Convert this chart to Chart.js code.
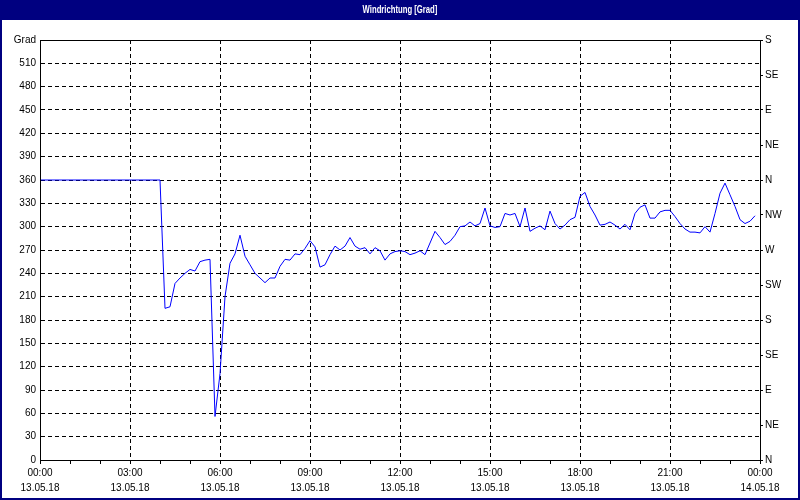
<html><head>
<script src="https://cdn.jsdelivr.net/npm/chart.js@4.4.0/dist/chart.umd.min.js"></script>
<style>
  body { margin: 0; background: #fff; }
</style>
</head>
<body>
<canvas id="wind-chart" width="800" height="500"></canvas>
<script>

var chartTitle = "Windrichtung [Grad]";
var axisUnit = "Grad";
var dayOne = "13.05.18";
var dayTwo = "14.05.18";
var compassLabels = ["N", "NE", "E", "SE", "S", "SW", "W", "NW", "N", "NE", "E", "SE", "S"];

// minutes since 00:00
var sampleMinutes = [0, 240, 250, 260, 270, 280, 290, 300, 310, 320, 330, 340, 350, 360, 370, 380, 390,
  400, 410, 420, 430, 440, 450, 460, 470, 480, 490, 500, 510, 520, 530, 540, 550, 560, 570, 580, 590,
  600, 610, 620, 630, 640, 650, 660, 670, 680, 690, 700, 710, 720, 730, 740, 750, 760, 770, 780, 790,
  800, 810, 820, 830, 840, 850, 860, 870, 880, 890, 900, 910, 920, 930, 940, 950, 960, 970, 980, 990,
  1000, 1010, 1020, 1030, 1040, 1050, 1060, 1070, 1080, 1090, 1100, 1110, 1120, 1130, 1140, 1150, 1160,
  1170, 1180, 1190, 1200, 1210, 1220, 1230, 1240, 1250, 1260, 1270, 1280, 1290, 1300, 1310, 1320, 1330,
  1340, 1350, 1360, 1370, 1380, 1390, 1400, 1410, 1420, 1430];

var direction = [360, 360, 195, 197, 227, 234, 240, 245, 243, 255, 257, 258, 56, 111, 210, 253, 265,
  289, 262, 251, 240, 234, 228, 234, 234, 249, 258, 257, 265, 264, 272, 282, 274, 248, 251, 264, 275,
  270, 275, 286, 275, 271, 273, 265, 273, 269, 257, 265, 268, 269, 268, 264, 266, 269, 264, 279, 294,
  286, 277, 281, 289, 300, 301, 306, 301, 304, 324, 301, 299, 300, 317, 315, 317, 300, 324, 294, 298,
  301, 296, 320, 304, 297, 302, 309, 312, 339, 344, 326, 315, 302, 303, 306, 302, 297, 303, 296, 317,
  325, 328, 311, 311, 319, 321, 321, 313, 304, 297, 293, 293, 292, 300, 293, 317, 343, 356, 341, 326,
  309, 304, 307, 314];

var points = [];
for (var i = 0; i < sampleMinutes.length; i++) {
  points.push({x: sampleMinutes[i], y: direction[i]});
}

var tickFont = {family: "'Liberation Sans', sans-serif", size: 10, lineHeight: '15px'};

// navy frame, title bar and the solid box round the plot
var framePlugin = {
  id: 'frame',
  beforeDraw: function(chart) {
    var ctx = chart.ctx;
    ctx.save();
    ctx.fillStyle = '#fff';
    ctx.fillRect(0, 0, 800, 500);
    ctx.fillStyle = '#000080';
    ctx.fillRect(0, 0, 800, 20);
    ctx.fillStyle = '#fff';
    ctx.font = "bold 11px 'Liberation Sans', sans-serif";
    ctx.textAlign = 'center';
    ctx.textBaseline = 'middle';
    ctx.translate(400, 10);
    ctx.scale(0.7, 1);   // the original font is much narrower
    ctx.fillText(chartTitle, 0, 0);
    ctx.restore();
  },
  afterDraw: function(chart) {
    var ctx = chart.ctx;
    var a = chart.chartArea;
    ctx.save();
    ctx.strokeStyle = '#000';
    ctx.lineWidth = 1;
    ctx.strokeRect(a.left + 0.5, a.top + 0.5, a.right - a.left, a.bottom - a.top);
    ctx.strokeStyle = '#000080';
    ctx.lineWidth = 2;
    ctx.strokeRect(1, 1, 798, 498);
    ctx.restore();
  }
};

new Chart(document.getElementById("wind-chart"), {
  type: 'line',
  data: {
    datasets: [{
      data: points,
      borderColor: '#0000ff',
      borderWidth: 1,
      pointRadius: 0,
      tension: 0,
      fill: false
    }]
  },
  options: {
    responsive: false,
    animation: false,
    layout: {padding: {top: 40, left: 0, right: 0, bottom: 0}},
    plugins: {legend: {display: false}, tooltip: {enabled: false}},
    scales: {
      x: {
        type: 'linear',
        min: 0,
        max: 1440,
        afterFit: function(scale) { scale.height = 40; },
        afterBuildTicks: function(scale) {
          var t = [];
          for (var m = 0; m <= 1440; m += 60) t.push({value: m});
          scale.ticks = t;
        },
        grid: {
          color: function(c) { return c.tick && c.tick.value % 180 === 0 ? '#000' : 'rgba(0,0,0,0)'; },
          tickColor: '#000',
          tickLength: 4,
          lineWidth: 1
        },
        border: {color: '#000', dash: [4, 3]},
        ticks: {
          autoSkip: false,
          maxRotation: 0,
          padding: 2,
          color: '#000',
          font: tickFont,
          callback: function(v) {
            if (v % 180 !== 0) return '';
            var h = Math.floor(v / 60) % 24;
            var hh = (h < 10 ? '0' : '') + h + ':00';
            return [hh, v >= 1440 ? dayTwo : dayOne];
          }
        }
      },
      y: {
        position: 'left',
        min: 0,
        max: 540,
        afterFit: function(scale) { scale.width = 40; },
        grid: {color: '#000', drawTicks: false},
        border: {color: '#000', dash: [4, 3]},
        ticks: {
          stepSize: 30,
          padding: 4,
          color: '#000',
          font: tickFont,
          callback: function(v) { return v === 540 ? axisUnit : v; }
        }
      },
      y2: {
        position: 'right',
        min: 0,
        max: 540,
        afterFit: function(scale) { scale.width = 40; },
        grid: {drawOnChartArea: false, tickColor: '#000', tickLength: 3},
        border: {color: '#000'},
        ticks: {
          stepSize: 45,
          padding: 2,
          color: '#000',
          font: tickFont,
          callback: function(v) { return compassLabels[Math.round(v / 45)]; }
        }
      }
    }
  },
  plugins: [framePlugin]
});
</script>
</body>
</html>
